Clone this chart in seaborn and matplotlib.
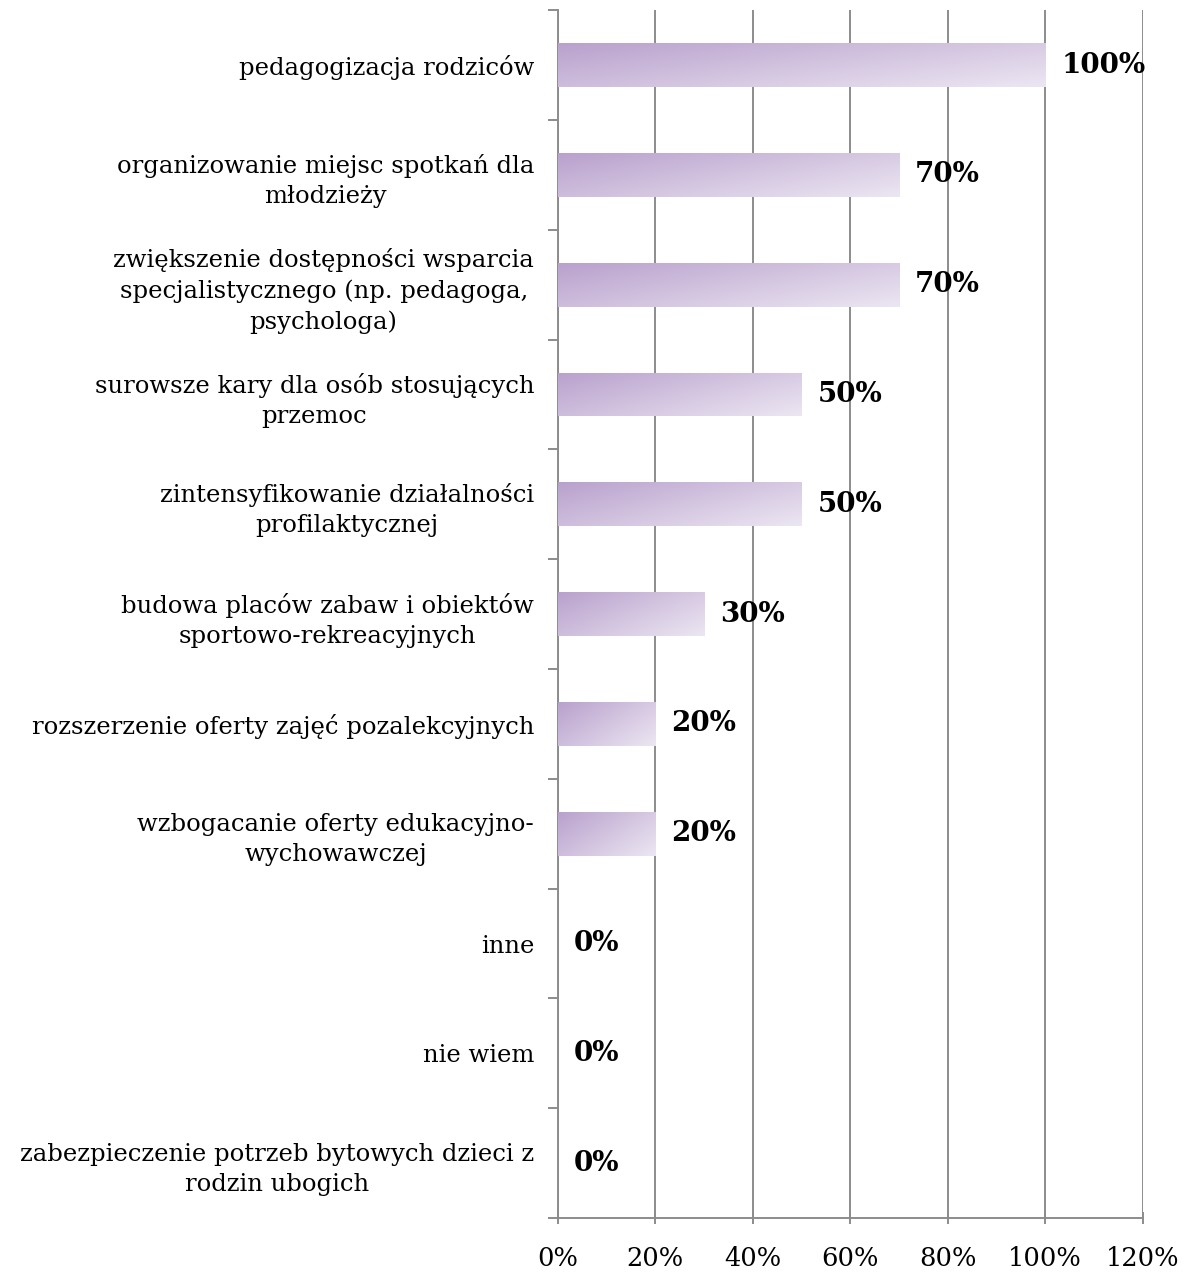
import numpy as np
import pandas as pd
import seaborn as sns
import matplotlib.pyplot as plt
from matplotlib.colors import LinearSegmentedColormap
from matplotlib.ticker import FixedLocator, PercentFormatter

kategorie = [
    "pedagogizacja rodziców",
    "organizowanie miejsc spotkań dla\nmłodzieży",
    "zwiększenie dostępności wsparcia\nspecjalistycznego (np. pedagoga,\npsychologa)",
    "surowsze kary dla osób stosujących\nprzemoc",
    "zintensyfikowanie działalności\nprofilaktycznej",
    "budowa placów zabaw i obiektów\nsportowo-rekreacyjnych",
    "rozszerzenie oferty zajęć pozalekcyjnych",
    "wzbogacanie oferty edukacyjno-\nwychowawczej",
    "inne",
    "nie wiem",
    "zabezpieczenie potrzeb bytowych dzieci z\nrodzin ubogich",
]
procenty = [100, 70, 70, 50, 50, 30, 20, 20, 0, 0, 0]

sns.set_style("white")
plt.rcParams["font.family"] = ["DejaVu Serif"]
plt.rcParams["text.color"] = "black"
plt.rcParams["xtick.color"] = "#8c8c8c"
plt.rcParams["ytick.color"] = "#8c8c8c"
plt.rcParams["xtick.labelcolor"] = "black"
plt.rcParams["ytick.labelcolor"] = "black"

df = pd.DataFrame({"kategoria": kategorie, "procent": procenty})

fig = plt.figure(figsize=(11.84, 12.73), dpi=100)
ax = fig.add_axes([0.471, 0.0432, 0.494, 0.9488])

sns.barplot(data=df, x="procent", y="kategoria", orient="h", width=0.4,
            color="#c9b6da", ax=ax, zorder=3)

# gradient fill like the office chart
cmap = LinearSegmentedColormap.from_list("fiolet", ["#b9a1cd", "#ece6f2"])
g = np.linspace(0, 1, 200)
grad = (g[None, :] * 0.6 + np.linspace(0, 1, 40)[:, None] * 0.4)
for p in ax.patches:
    p.set_facecolor("none")
    p.set_edgecolor("none")
    x0, y0 = p.get_x(), p.get_y()
    w, h = p.get_width(), p.get_height()
    if w <= 0:
        continue
    im = ax.imshow(grad, cmap=cmap, extent=(x0, x0 + w, y0 + h, y0),
                   aspect="auto", origin="upper", zorder=3, interpolation="bilinear")
    im.set_clip_path(p)

ax.set_xlim(0, 120)
ax.set_ylim(len(kategorie) - 0.5, -0.5)
ax.set_xticks(range(0, 121, 20))
ax.xaxis.set_major_formatter(PercentFormatter(decimals=0))
ax.set_xlabel("")
ax.set_ylabel("")

ax.grid(axis="x", color="#8c8c8c", linewidth=1.4, zorder=0)
ax.grid(axis="y", visible=False)
for s in ["top", "right"]:
    ax.spines[s].set_visible(False)
for s in ["left", "bottom"]:
    ax.spines[s].set_color("#8c8c8c")
    ax.spines[s].set_linewidth(1.4)

ax.tick_params(axis="y", which="major", left=True, length=0, pad=17, labelsize=17.5)
ax.yaxis.set_minor_locator(FixedLocator(np.arange(-0.5, len(kategorie), 1)))
ax.tick_params(axis="y", which="minor", left=True, length=7, width=1.4, direction="out")
ax.tick_params(axis="x", which="major", bottom=True, length=9, width=1.4,
               direction="inout", labelsize=18.5, pad=16)
for t in ax.get_yticklabels():
    t.set_multialignment("center")
    t.set_linespacing(1.4)

for i, v in enumerate(procenty):
    ax.text(v + 3.3, i, f"{v}%", va="center", ha="left", fontsize=20,
            fontweight="bold", color="black", zorder=5)

fig.savefig("out.png", dpi=100)
